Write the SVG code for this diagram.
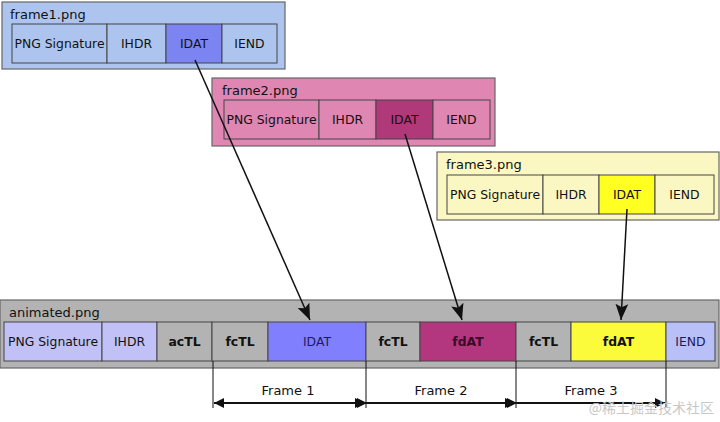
<svg xmlns="http://www.w3.org/2000/svg" width="720" height="422" viewBox="0 0 720 422">
<defs>
<style>
text{font-family:"DejaVu Sans","Noto Sans",sans-serif;font-size:12.4px;fill:#111}
.t{text-anchor:middle}
.b{font-weight:bold}
.lbl{font-size:13px}
.fr{font-size:13px}
.outer{stroke:#666;stroke-width:1.2}
.cell{stroke:#444;stroke-width:1}
.conn{stroke:#111;stroke-width:1.5;fill:none}
.dim{stroke:#111;stroke-width:1.8;fill:none}
.tick{stroke:#111;stroke-width:1;fill:none}
</style>
<marker id="ah" viewBox="0 0 10 10" refX="10" refY="5" markerWidth="10" markerHeight="10" markerUnits="userSpaceOnUse" orient="auto">
<path d="M0,0 L10,5 L0,10 Z" fill="#111"/>
</marker>
<marker id="big" viewBox="0 0 10 10" refX="10" refY="5" markerWidth="16" markerHeight="16" markerUnits="userSpaceOnUse" orient="auto">
<path d="M0,1 L10,5 L0,9 L2,5 Z" fill="#111"/>
</marker>
</defs>
<rect width="720" height="422" fill="#fff"/>

<g id="frame1">
<rect class="outer" x="2" y="2" width="283" height="67" fill="#adc5ee"/>
<text class="lbl" x="10" y="19">frame1.png</text>
<rect class="cell" x="12" y="24" width="95" height="39" fill="#adc5ee"/>
<rect class="cell" x="107" y="24" width="59" height="39" fill="#adc5ee"/>
<rect class="cell" x="166" y="24" width="56" height="39" fill="#7c84f2"/>
<rect class="cell" x="222" y="24" width="55" height="39" fill="#adc5ee"/>
<text class="t" x="59.5" y="48">PNG Signature</text>
<text class="t" x="136.5" y="48">IHDR</text>
<text class="t" x="194" y="48">IDAT</text>
<text class="t" x="249.5" y="48">IEND</text>
</g>

<g id="frame2">
<rect class="outer" x="212" y="78" width="283" height="68" fill="#df86b2"/>
<text class="lbl" x="222" y="95">frame2.png</text>
<rect class="cell" x="224" y="100" width="95" height="39" fill="#df86b2"/>
<rect class="cell" x="319" y="100" width="57" height="39" fill="#df86b2"/>
<rect class="cell" x="376" y="100" width="57" height="39" fill="#b0397a"/>
<rect class="cell" x="433" y="100" width="57" height="39" fill="#df86b2"/>
<text class="t" x="271.5" y="124">PNG Signature</text>
<text class="t" x="347.5" y="124">IHDR</text>
<text class="t" x="404.5" y="124">IDAT</text>
<text class="t" x="461.5" y="124">IEND</text>
</g>

<g id="frame3">
<rect class="outer" x="437" y="152" width="282" height="68" fill="#fbf7c2"/>
<text class="lbl" x="446" y="169">frame3.png</text>
<rect class="cell" x="447" y="175" width="96" height="39" fill="#fbf7c2"/>
<rect class="cell" x="543" y="175" width="56" height="39" fill="#fbf7c2"/>
<rect class="cell" x="599" y="175" width="56" height="39" fill="#ffff22"/>
<rect class="cell" x="655" y="175" width="59" height="39" fill="#fbf7c2"/>
<text class="t" x="495" y="199">PNG Signature</text>
<text class="t" x="571" y="199">IHDR</text>
<text class="t" x="627" y="199">IDAT</text>
<text class="t" x="684.5" y="199">IEND</text>
</g>

<g id="animated">
<rect class="outer" x="0" y="300" width="719" height="68" fill="#b3b3b3"/>
<text class="lbl" x="9" y="317">animated.png</text>
<rect class="cell" x="4" y="322" width="98" height="39" fill="#c1c1f7"/>
<rect class="cell" x="102" y="322" width="55" height="39" fill="#c1c1f7"/>
<rect class="cell" x="157" y="322" width="55" height="39" fill="#b3b3b3"/>
<rect class="cell" x="212" y="322" width="56" height="39" fill="#b3b3b3"/>
<rect class="cell" x="268" y="322" width="98" height="39" fill="#8080fe"/>
<rect class="cell" x="366" y="322" width="54" height="39" fill="#b3b3b3"/>
<rect class="cell" x="420" y="322" width="96" height="39" fill="#b3377e"/>
<rect class="cell" x="516" y="322" width="55" height="39" fill="#b3b3b3"/>
<rect class="cell" x="571" y="322" width="95" height="39" fill="#fbfb3c"/>
<rect class="cell" x="666" y="322" width="49" height="39" fill="#b8c0f7"/>
<text class="t" x="53" y="346">PNG Signature</text>
<text class="t" x="129.5" y="346">IHDR</text>
<text class="t b" x="184.5" y="346">acTL</text>
<text class="t b" x="240" y="346">fcTL</text>
<text class="t" x="317" y="346" style="fill:#1a1a60">IDAT</text>
<text class="t b" x="393" y="346">fcTL</text>
<text class="t b" x="468" y="346" style="fill:#3a0a28">fdAT</text>
<text class="t b" x="543.5" y="346">fcTL</text>
<text class="t b" x="618.5" y="346">fdAT</text>
<text class="t" x="690.5" y="346" style="fill:#1a1a60">IEND</text>
</g>

<g id="frames">
<text class="t fr" x="288" y="395">Frame 1</text>
<text class="t fr" x="441" y="395">Frame 2</text>
<text class="t fr" x="591" y="395">Frame 3</text>
</g>

<g id="connectors">
<line class="conn" x1="195" y1="60" x2="310" y2="320" marker-end="url(#big)"/>
<line class="conn" x1="405" y1="134" x2="462" y2="320" marker-end="url(#big)"/>
<line class="conn" x1="627" y1="209" x2="621" y2="320" marker-end="url(#big)"/>
<line class="tick" x1="213" y1="361" x2="213" y2="408"/>
<line class="tick" x1="366" y1="361" x2="366" y2="408"/>
<line class="tick" x1="516" y1="361" x2="516" y2="408"/>
<line class="tick" x1="666" y1="361" x2="666" y2="408"/>
<line class="dim" x1="222" y1="403" x2="214" y2="403" marker-end="url(#ah)"/>
<line class="dim" x1="214" y1="403" x2="365" y2="403" marker-end="url(#ah)"/>
<line class="dim" x1="360" y1="403" x2="367" y2="403" marker-end="url(#ah)"/>
<line class="dim" x1="367" y1="403" x2="515" y2="403" marker-end="url(#ah)"/>
<line class="dim" x1="510" y1="403" x2="517" y2="403" marker-end="url(#ah)"/>
<line class="dim" x1="517" y1="403" x2="665" y2="403" marker-end="url(#ah)"/>
</g>

<text x="714" y="413" style="text-anchor:end;font-family:'Noto Sans CJK SC',sans-serif;font-size:14px;fill:#c8c8c8">@稀土掘金技术社区</text>
</svg>
